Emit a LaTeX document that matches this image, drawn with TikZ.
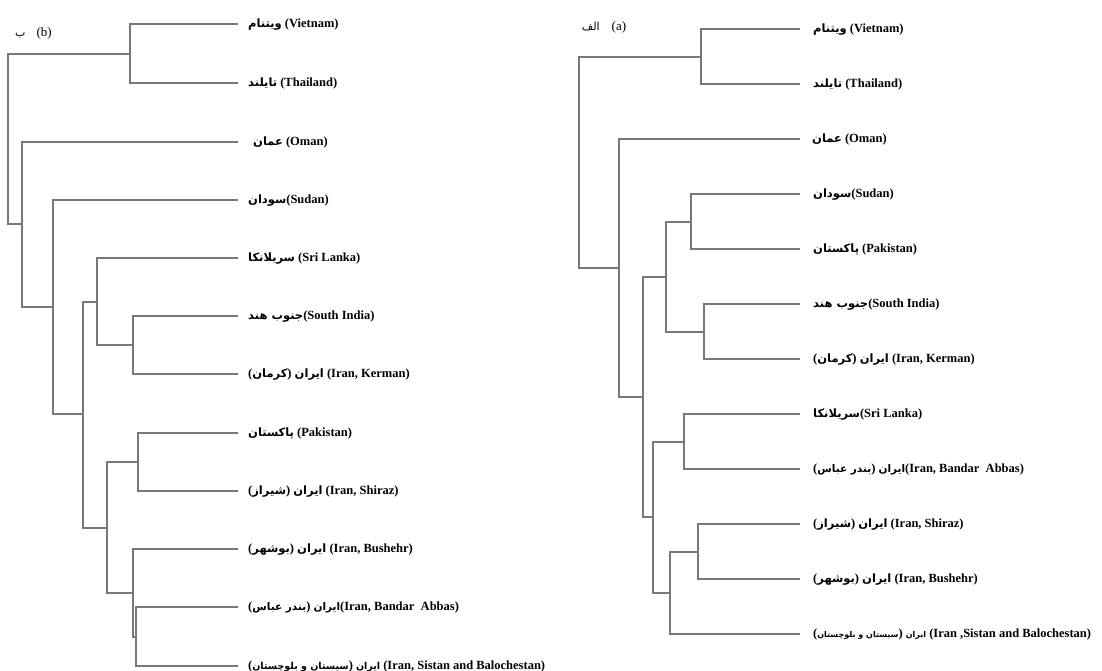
\documentclass[tikz,border=0pt]{standalone}
\usepackage{fontspec}
\setmainfont{Liberation Serif}
\newfontfamily\arabicfont[Script=Arabic]{DejaVu Sans}
\TeXXeTstate=1
\newcommand\ar[2][11.5]{{\arabicfont\fontsize{#1}{13}\selectfont\beginR #2\endR}}
\newcommand\arp[2][11.5]{(\ar[#1]{#2})}
\definecolor{treegray}{RGB}{120,120,120}
\tikzset{
  tree/.style={draw=treegray, line width=1.2pt},
  lab/.style={anchor=west, inner sep=0pt, font=\fontsize{12.5}{15}\selectfont\bfseries, text height=10pt, text depth=3pt},
  ttl/.style={inner sep=0pt, font=\fontsize{13}{15}\selectfont}
}
\newcommand\dendjoin[3]{\draw[tree] (#1) |- (#2) (#1) |- (#3);}
\begin{document}
\begin{tikzpicture}[x=1pt,y=-1pt]
\fill[white] (0,0) rectangle (1102,671);
\useasboundingbox (0,0) rectangle (1102,671);

% ---------------- (b) left tree ----------------
\node[ttl] (tb) at (33.5,33) {\ar[11]{ب}\hspace{11pt}(b)};
\foreach \n/\y in {1/24,2/83,3/142,4/200,5/258,6/316,7/374,8/433,9/491,10/549,11/607,12/666}
  \coordinate (L\n) at (238,\y);
\node[lab] (tL1) at ([xshift=10pt]L1) {\ar{ویتنام} (Vietnam)};
\node[lab] (tL2) at ([xshift=10pt]L2) {\ar{تایلند} (Thailand)};
\node[lab] (tL3) at ([xshift=15pt]L3) {\ar{عمان} (Oman)};
\node[lab] (tL4) at ([xshift=10pt]L4) {\ar{سودان}(Sudan)};
\node[lab] (tL5) at ([xshift=10pt]L5) {\ar{سریلانکا} (Sri Lanka)};
\node[lab] (tL6) at ([xshift=10pt]L6) {\ar{جنوب هند}(South India)};
\node[lab] (tL7) at ([xshift=10pt]L7) {\arp{کرمان} \ar{ایران} (Iran, Kerman)};
\node[lab] (tL8) at ([xshift=10pt]L8) {\ar{پاکستان} (Pakistan)};
\node[lab] (tL9) at ([xshift=10pt]L9) {\arp{شیراز} \ar{ایران} (Iran, Shiraz)};
\node[lab] (tL10) at ([xshift=10pt]L10) {\arp{بوشهر} \ar{ایران} (Iran, Bushehr)};
\node[lab] (tL11) at ([xshift=10pt]L11) {\arp[10.5]{بندر عباس} \ar[10.5]{ایران}(Iran, Bandar\ \ Abbas)};
\node[lab] (tL12) at ([xshift=10pt]L12) {\arp[9.5]{سیستان و بلوچستان} \ar[9.5]{ایران} (Iran, Sistan and Balochestan)};

\coordinate (bI) at (136,637);
\coordinate (bH) at (133,593);
\coordinate (bG) at (138,462);
\coordinate (bE) at (107,528);
\coordinate (bF) at (133,345);
\coordinate (bD) at (97,302);
\coordinate (bC) at (83,414);
\coordinate (bB) at (53,307);
\coordinate (bA) at (22,224);
\coordinate (bVT) at (130,54);
\coordinate (bR) at (8,139);

\dendjoin{bVT}{L1}{L2}
\dendjoin{bR}{bVT}{bA}
\dendjoin{bA}{L3}{bB}
\dendjoin{bB}{L4}{bC}
\dendjoin{bC}{bD}{bE}
\dendjoin{bD}{L5}{bF}
\dendjoin{bF}{L6}{L7}
\dendjoin{bE}{bG}{bH}
\dendjoin{bG}{L8}{L9}
\dendjoin{bH}{L10}{bI}
\dendjoin{bI}{L11}{L12}

% ---------------- (a) right tree ----------------
\node[ttl] (ta) at (604,27) {\ar[11]{الف}\hspace{12pt}(a)};
\foreach \n/\y in {1/29,2/84,3/139,4/194,5/249,6/304,7/359,8/414,9/469,10/524,11/579,12/634}
  \coordinate (R\n) at (800,\y);
\node[lab] (tR1) at ([xshift=13pt]R1) {\ar{ویتنام} (Vietnam)};
\node[lab] (tR2) at ([xshift=13pt]R2) {\ar{تایلند} (Thailand)};
\node[lab] (tR3) at ([xshift=12pt]R3) {\ar{عمان} (Oman)};
\node[lab] (tR4) at ([xshift=13pt]R4) {\ar{سودان}(Sudan)};
\node[lab] (tR5) at ([xshift=13pt]R5) {\ar{پاکستان} (Pakistan)};
\node[lab] (tR6) at ([xshift=13pt]R6) {\ar{جنوب هند}(South India)};
\node[lab] (tR7) at ([xshift=13pt]R7) {\arp{کرمان} \ar{ایران} (Iran, Kerman)};
\node[lab] (tR8) at ([xshift=13pt]R8) {\ar{سریلانکا}(Sri Lanka)};
\node[lab] (tR9) at ([xshift=13pt]R9) {\arp[10.5]{بندر عباس} \ar[10.5]{ایران}(Iran, Bandar\ \ Abbas)};
\node[lab] (tR10) at ([xshift=13pt]R10) {\arp{شیراز} \ar{ایران} (Iran, Shiraz)};
\node[lab] (tR11) at ([xshift=13pt]R11) {\arp{بوشهر} \ar{ایران} (Iran, Bushehr)};
\node[lab] (tR12) at ([xshift=13pt]R12) {\arp[8]{سیستان و بلوچستان} \ar[8]{ایران} (Iran ,Sistan\ and\ Balochestan)};

\coordinate (aVT) at (701,57);
\coordinate (aA) at (619,268);
\coordinate (aR) at (579,162);
\coordinate (aB) at (643,397);
\coordinate (aC) at (666,277);
\coordinate (aD) at (653,517);
\coordinate (aE) at (691,222);
\coordinate (aF) at (704,332);
\coordinate (aG) at (684,442);
\coordinate (aH) at (670,593);
\coordinate (aI) at (698,552);

\dendjoin{aVT}{R1}{R2}
\dendjoin{aR}{aVT}{aA}
\dendjoin{aA}{R3}{aB}
\dendjoin{aB}{aC}{aD}
\dendjoin{aC}{aE}{aF}
\dendjoin{aE}{R4}{R5}
\dendjoin{aF}{R6}{R7}
\dendjoin{aD}{aG}{aH}
\dendjoin{aG}{R8}{R9}
\dendjoin{aH}{aI}{R12}
\dendjoin{aI}{R10}{R11}
\end{tikzpicture}
\end{document}
